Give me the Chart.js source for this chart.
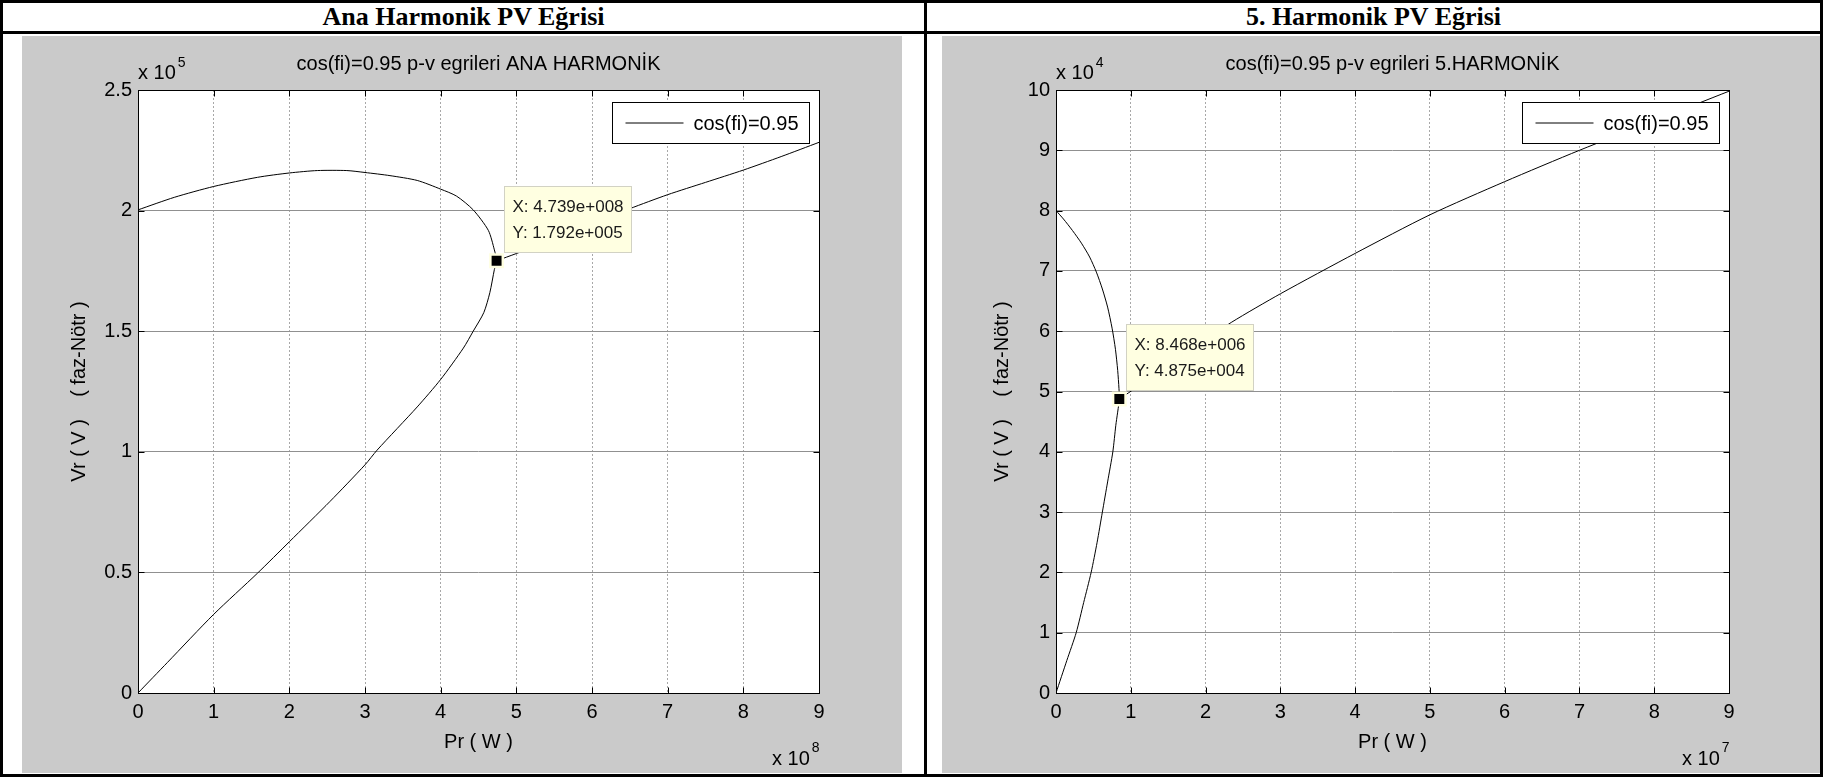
<!DOCTYPE html>
<html>
<head>
<meta charset="utf-8">
<title>PV Eğrileri</title>
<script src="https://cdn.jsdelivr.net/npm/chart.js@4/dist/chart.umd.min.js"></script>
<style>
  html, body { margin: 0; padding: 0; background: #fff; }
  #page { position: relative; width: 1823px; height: 777px; overflow: hidden; background: #fff; }
  .rule { position: absolute; background: #000; }
  .head { position: absolute; top: 2px; height: 30px; line-height: 30px; text-align: center;
          font: bold 26px "Liberation Serif", "Times New Roman", serif; color: #000; }
  .panel { position: absolute; top: 36px; height: 737px; background: #cacaca; }
  canvas { display: block; }
</style>
</head>
<body>
<div id="page">
  <div class="rule" style="left:0;top:0;width:1823px;height:3px"></div>
  <div class="rule" style="left:0;top:31px;width:1823px;height:3px"></div>
  <div class="rule" style="left:0;top:774px;width:1823px;height:3px"></div>
  <div class="rule" style="left:0;top:0;width:3px;height:777px"></div>
  <div class="rule" style="left:924px;top:0;width:3px;height:777px"></div>
  <div class="rule" style="left:1820px;top:0;width:3px;height:777px"></div>
  <div class="head" style="left:3px;width:921px">Ana Harmonik PV Eğrisi</div>
  <div class="head" style="left:927px;width:893px">5. Harmonik PV Eğrisi</div>
  <div class="panel" style="left:22px;width:880px"><canvas id="anaChart" width="880" height="737"></canvas></div>
  <div class="panel" style="left:942px;width:878px"><canvas id="h5Chart" width="878" height="737"></canvas></div>
</div>
<script>
// ---- Fundamental harmonic: received power Pr (W) vs. phase voltage Vr (V) ----
const anaUpperP = [0, 0.48e8, 1.0e8, 1.58e8, 2.0e8, 2.37e8, 2.76e8, 3.0e8, 3.33e8, 3.69e8, 4.0e8, 4.21e8, 4.43e8, 4.63e8, 4.71e8, 4.739e8];
const anaUpperV = [2.003e5, 2.055e5, 2.10e5, 2.138e5, 2.156e5, 2.166e5, 2.166e5, 2.158e5, 2.145e5, 2.125e5, 2.089e5, 2.06e5, 2.003e5, 1.918e5, 1.837e5, 1.792e5];
const anaLowerP = [4.739e8, 4.71e8, 4.65e8, 4.57e8, 4.43e8, 4.30e8, 4.0e8, 3.69e8, 3.16e8, 3.0e8, 2.54e8, 2.0e8, 1.58e8, 1.0e8, 0.39e8, 0];
const anaLowerV = [1.792e5, 1.756e5, 1.66e5, 1.577e5, 1.50e5, 1.43e5, 1.30e5, 1.186e5, 1.007e5, 0.946e5, 0.795e5, 0.627e5, 0.497e5, 0.326e5, 0.127e5, 0];
const anaHighP  = [4.739e8, 5.0e8, 5.5e8, 6.0e8, 6.5e8, 7.0e8, 7.5e8, 8.0e8, 8.5e8, 9.0e8];
const anaHighV  = [1.792e5, 1.822e5, 1.882e5, 1.945e5, 2.008e5, 2.066e5, 2.117e5, 2.168e5, 2.224e5, 2.283e5];
const anaTip    = { x: 4.739e8, y: 1.792e5 };

// ---- 5th harmonic ----
const h5UpperP = [0, 0.10e7, 0.22e7, 0.34e7, 0.45e7, 0.54e7, 0.62e7, 0.69e7, 0.75e7, 0.795e7, 0.825e7, 0.842e7, 0.8468e7];
const h5UpperV = [8.0e4, 7.86e4, 7.67e4, 7.46e4, 7.23e4, 6.98e4, 6.7e4, 6.4e4, 6.05e4, 5.7e4, 5.35e4, 5.05e4, 4.875e4];
const h5LowerP = [0.8468e7, 0.80e7, 0.76e7, 0.69e7, 0.62e7, 0.55e7, 0.47e7, 0.37e7, 0.27e7, 0.145e7, 0];
const h5LowerV = [4.875e4, 4.44e4, 4.0e4, 3.5e4, 3.0e4, 2.5e4, 2.0e4, 1.5e4, 1.0e4, 0.54e4, 0];
const h5HighP  = [0.8468e7, 1.2e7, 1.6e7, 2.0e7, 2.35e7, 3.0e7, 4.0e7, 5.0e7, 6.0e7, 7.0e7, 8.0e7, 9.0e7];
const h5HighV  = [4.875e4, 5.17e4, 5.5e4, 5.85e4, 6.15e4, 6.62e4, 7.29e4, 7.93e4, 8.48e4, 9.0e4, 9.49e4, 9.98e4];
const h5Tip    = { x: 8.468e6, y: 4.875e4 };

// ---- axis ranges and tick steps ----
const anaXTicks = { min: 0, max: 9e8, step: 1e8, scale: 1e8, exp: '8' };
const anaYTicks = { min: 0, max: 2.5e5, step: 0.5e5, scale: 1e5, exp: '5' };
const h5XTicks  = { min: 0, max: 9e7, step: 1e7, scale: 1e7, exp: '7' };
const h5YTicks  = { min: 0, max: 10e4, step: 1e4, scale: 1e4, exp: '4' };

const SANS = '"Liberation Sans", Arial, Helvetica, sans-serif';

// join several branches into one polyline, separated by gaps
function joinBranches(branches) {
  const pts = [];
  branches.forEach((b, i) => {
    if (i > 0) pts.push({ x: null, y: null });
    b[0].forEach((p, k) => pts.push({ x: p, y: b[1][k] }));
  });
  return pts;
}

function tickText(v, s) { return String(Math.round(v / s * 100) / 100); }

// MATLAB style exponent: 4.739e+008
function matlabExp(v) {
  const parts = v.toExponential(3).split('e');
  const sign = parts[1][0] === '-' ? '-' : '+';
  return parts[0] + 'e' + sign + parts[1].replace(/[+-]/, '').padStart(3, '0');
}

const matlabFrame = {
  id: 'matlabFrame',
  beforeDraw(chart) {
    const { ctx, chartArea: a } = chart;
    ctx.save();
    ctx.fillStyle = '#ffffff';
    ctx.fillRect(a.left, a.top, a.right - a.left, a.bottom - a.top);
    ctx.restore();
  },
  afterDatasetsDraw(chart, args, o) {
    const { ctx, chartArea: a, scales } = chart;
    const L = Math.round(a.left) + 0.5, R = Math.round(a.right) + 0.5;
    const T = Math.round(a.top) + 0.5, B = Math.round(a.bottom) + 0.5;
    ctx.save();
    // inward tick marks on all four sides
    ctx.strokeStyle = '#000';
    ctx.lineWidth = 1;
    ctx.beginPath();
    scales.x.ticks.forEach(t => {
      const x = Math.round(scales.x.getPixelForValue(t.value)) + 0.5;
      ctx.moveTo(x, B); ctx.lineTo(x, B - 6);
      ctx.moveTo(x, T); ctx.lineTo(x, T + 6);
    });
    scales.y.ticks.forEach(t => {
      const y = Math.round(scales.y.getPixelForValue(t.value)) + 0.5;
      ctx.moveTo(L, y); ctx.lineTo(L + 6, y);
      ctx.moveTo(R, y); ctx.lineTo(R - 6, y);
    });
    ctx.stroke();
    // axes box
    ctx.strokeRect(L, T, R - L, B - T);

    // legend box
    const lw = 197, lh = 41;
    const lx = Math.round(a.right - 10 - lw) + 0.5, ly = Math.round(a.top + 12) + 0.5;
    ctx.fillStyle = '#fff';
    ctx.fillRect(lx, ly, lw, lh);
    ctx.strokeStyle = '#000';
    ctx.strokeRect(lx, ly, lw, lh);
    ctx.beginPath();
    ctx.moveTo(lx + 13, ly + lh / 2);
    ctx.lineTo(lx + 71, ly + lh / 2);
    ctx.stroke();
    ctx.fillStyle = '#000';
    ctx.font = '20px ' + SANS;
    ctx.textAlign = 'left';
    ctx.textBaseline = 'middle';
    ctx.fillText(chart.data.datasets[1].label, lx + 81, ly + lh / 2 + 1);
    ctx.restore();
  },
  afterDraw(chart, args, o) {
    const { ctx, chartArea: a, scales } = chart;
    ctx.save();
    ctx.fillStyle = '#000';
    const cx = (a.left + a.right) / 2, cy = (a.top + a.bottom) / 2;

    // title
    ctx.font = '20px ' + SANS;
    ctx.textAlign = 'center';
    ctx.textBaseline = 'middle';
    ctx.fillText(o.title, cx, a.top - 26);

    // x axis label
    ctx.fillText(o.xTitle, cx, a.bottom + 49);

    // y axis label
    ctx.save();
    ctx.translate(a.left - o.yTitleOffset, cy);
    ctx.rotate(-Math.PI / 2);
    ctx.fillText(o.yTitle, 0, 0);
    ctx.restore();

    // exponent labels
    ctx.textAlign = 'left';
    ctx.textBaseline = 'alphabetic';
    ctx.font = '20px ' + SANS;
    const base = 'x 10';
    const bw = ctx.measureText(base).width;
    ctx.fillText(base, a.left, a.top - 11);
    ctx.fillText(base, a.right - 47, a.bottom + 72);
    ctx.font = '14px ' + SANS;
    ctx.fillText(o.yExp, a.left + bw + 2, a.top - 23);
    ctx.fillText(o.xExp, a.right - 47 + bw + 2, a.bottom + 59);

    // data tip
    const px = scales.x.getPixelForValue(o.tip.x), py = scales.y.getPixelForValue(o.tip.y);
    const tw = 127, th = 66;
    const tx = Math.round(px + 7) + 0.5, ty = Math.round(py - 9 - th) + 0.5;
    ctx.fillStyle = '#ffffe1';
    ctx.fillRect(tx, ty, tw, th);
    ctx.strokeStyle = '#d2d2c4';
    ctx.lineWidth = 1;
    ctx.strokeRect(tx, ty, tw, th);
    ctx.fillStyle = '#1a1a1a';
    ctx.font = '17px ' + SANS;
    ctx.textBaseline = 'middle';
    ctx.fillText('X: ' + matlabExp(o.tip.x), tx + 8, ty + 21);
    ctx.fillText('Y: ' + matlabExp(o.tip.y), tx + 8, ty + 47);
    ctx.restore();
  }
};

function makeChart(id, cfg) {
  const tickFont = { family: SANS, size: 20 };
  return new Chart(document.getElementById(id), {
    type: 'line',
    data: {
      datasets: [
        {
          label: 'datatip',
          data: [cfg.tip],
          showLine: false,
          pointStyle: 'rect',
          pointRadius: 8.8,
          pointBackgroundColor: '#000',
          pointBorderColor: '#ffffe1',
          pointBorderWidth: 2.5,
          order: 0,
          clip: false
        },
        {
          label: 'cos(fi)=0.95',
          data: joinBranches(cfg.branches),
          borderColor: '#000',
          borderWidth: 1,
          pointRadius: 0,
          tension: 0.25,
          spanGaps: false,
          fill: false,
          order: 1
        }
      ]
    },
    options: {
      responsive: false,
      animation: false,
      devicePixelRatio: 1,
      events: [],
      layout: { padding: { left: 0, right: cfg.padRight, top: 54, bottom: 0 } },
      plugins: {
        legend: { display: false },
        title: { display: false },
        tooltip: { enabled: false },
        matlabFrame: {
          title: cfg.title,
          xTitle: 'Pr ( W )',
          yTitle: 'Vr ( V )    ( faz-Nötr )',
          yTitleOffset: cfg.yTitleOffset,
          xExp: cfg.xt.exp,
          yExp: cfg.yt.exp,
          tip: cfg.tip
        }
      },
      scales: {
        x: {
          type: 'linear',
          position: 'bottom',
          min: cfg.xt.min, max: cfg.xt.max,
          ticks: { stepSize: cfg.xt.step, callback: v => tickText(v, cfg.xt.scale),
                   font: tickFont, color: '#000', padding: 7, maxRotation: 0, autoSkip: false },
          grid: { color: '#a8a8a8', lineWidth: 1, drawTicks: false, borderDash: [2, 2] },
          border: { display: false, dash: [2, 2] },
          afterFit: s => { s.height = 80; }
        },
        y: {
          type: 'linear',
          position: 'left',
          min: cfg.yt.min, max: cfg.yt.max,
          ticks: { stepSize: cfg.yt.step, callback: v => tickText(v, cfg.yt.scale),
                   font: tickFont, color: '#000', padding: 6, autoSkip: false },
          grid: { color: '#909090', lineWidth: 1, drawTicks: false },
          border: { display: false },
          afterFit: s => { s.width = cfg.yWidth; }
        }
      }
    },
    plugins: [matlabFrame]
  });
}

makeChart('anaChart', {
  title: 'cos(fi)=0.95 p-v egrileri ANA HARMONİK',
  branches: [[anaHighP, anaHighV], [anaUpperP.concat(anaLowerP.slice(1)), anaUpperV.concat(anaLowerV.slice(1))]],
  tip: anaTip, xt: anaXTicks, yt: anaYTicks,
  yWidth: 116, padRight: 83, yTitleOffset: 59
});

makeChart('h5Chart', {
  title: 'cos(fi)=0.95 p-v egrileri 5.HARMONİK',
  branches: [[h5HighP, h5HighV], [h5UpperP.concat(h5LowerP.slice(1)), h5UpperV.concat(h5LowerV.slice(1))]],
  tip: h5Tip, xt: h5XTicks, yt: h5YTicks,
  yWidth: 114, padRight: 91, yTitleOffset: 54
});
</script>
</body>
</html>
